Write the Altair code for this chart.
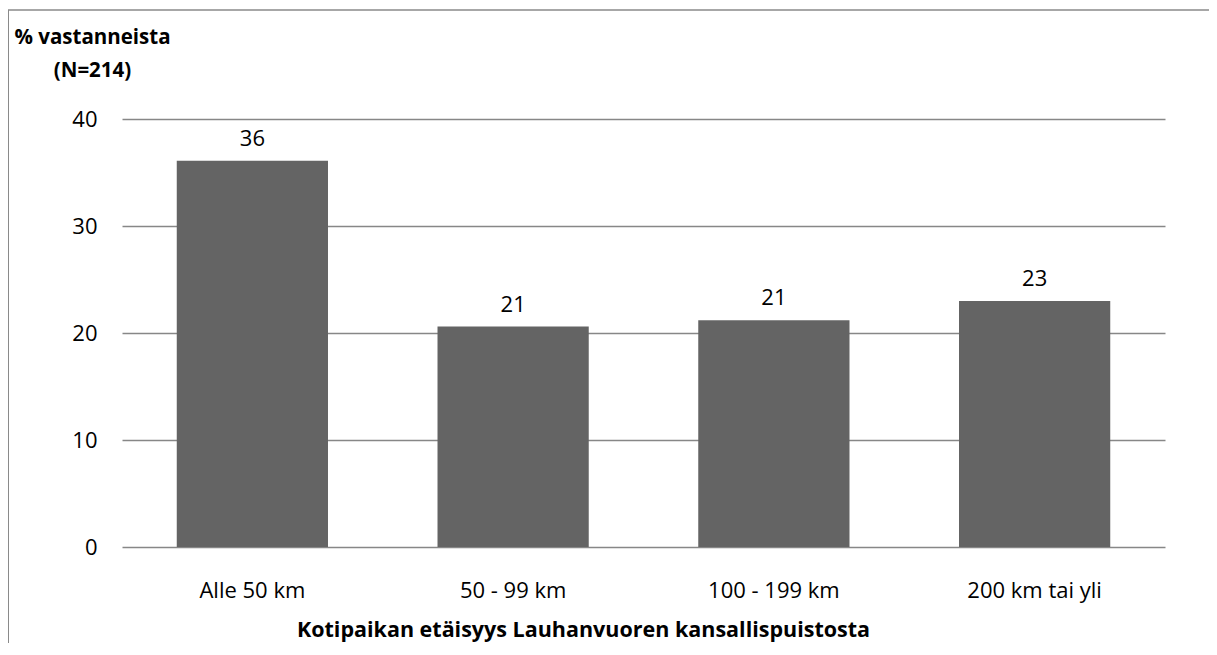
import altair as alt
import pandas as pd

categories = ["Alle 50 km", "50 - 99 km", "100 - 199 km", "200 km tai yli"]
values = [36.1, 20.6, 21.2, 23.0]
labels = ["36", "21", "21", "23"]

df = pd.DataFrame({"cat": categories, "val": values, "lab": labels})

FONT = "Open Sans"
FS = 22

x_enc = alt.X("cat:N", sort=categories,
              scale=alt.Scale(paddingInner=0.42, paddingOuter=0.21),
              axis=alt.Axis(title="Kotipaikan etäisyys Lauhanvuoren kansallispuistosta",
                            labelAngle=0, labelFontSize=FS, labelColor="black", labelFont=FONT,
                            labelPadding=33, ticks=False, domain=False,
                            titleFontSize=21.5, titleFontWeight="bold", titleColor="black", titleFont=FONT,
                            titleX=461, titleY=83, titleBaseline="middle"))
y_enc = alt.Y("val:Q", scale=alt.Scale(domain=[0, 40], nice=False),
              axis=alt.Axis(values=[0, 10, 20, 30, 40], title=["% vastanneista", "(N=214)"],
                            grid=True, gridColor="#878787", gridWidth=1.3,
                            domain=False, ticks=False, labelFontSize=FS, labelColor="black",
                            labelFont=FONT, labelPadding=25,
                            titleAngle=0, titleX=-30, titleY=-82, titleAlign="center",
                            titleBaseline="middle", titleLineHeight=33,
                            titleFontSize=20.5, titleFontWeight="bold", titleColor="black", titleFont=FONT))

bars = alt.Chart(df).mark_bar(color="#646464").encode(x=x_enc, y=y_enc)
text = alt.Chart(df).mark_text(fontSize=FS, font=FONT, color="black", baseline="middle", dy=-22).encode(
    x=alt.X("cat:N", sort=categories), y="val:Q", text="lab:N")

frame_data = alt.Data(values=[{"a": 1}])
top_line = alt.Chart(frame_data).mark_rule(color="#8a8a8a", strokeWidth=1.5).encode(
    x=alt.value(-114), x2=alt.value(1200), y=alt.value(-109))
left_line = alt.Chart(frame_data).mark_rule(color="#8a8a8a", strokeWidth=2).encode(
    x=alt.value(-114), y=alt.value(-109), y2=alt.value(600))

chart = alt.layer(bars, text, top_line, left_line).properties(
    width=1043, height=428,
    autosize=alt.AutoSizeParams(type="none"),
    padding={"left": 114, "top": 111, "right": 44, "bottom": 96},
).configure_view(stroke=None)

chart.save("out.html", embed_options={"renderer": "svg", "actions": False})
